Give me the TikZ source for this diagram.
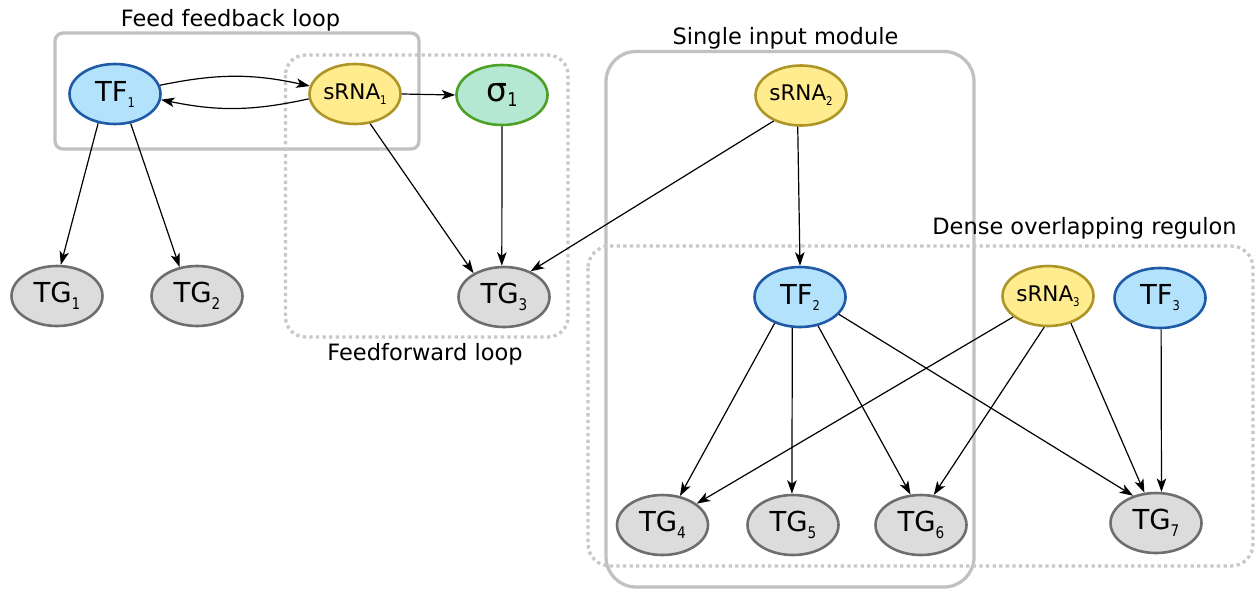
\documentclass[tikz,border=0pt]{standalone}
\usepackage{fontspec}
\setmainfont{DejaVu Sans}
\usetikzlibrary{shapes.geometric,arrows.meta}
\definecolor{tffill}{HTML}{B3E2FC}
\definecolor{tfdraw}{HTML}{1F5AA6}
\definecolor{srnafill}{HTML}{FFEC8F}
\definecolor{srnadraw}{HTML}{AD9527}
\definecolor{sigfill}{HTML}{B4E8D2}
\definecolor{sigdraw}{HTML}{4CA127}
\definecolor{tgfill}{HTML}{DCDCDC}
\definecolor{tgdraw}{HTML}{6E6E6E}
\definecolor{boxgray}{HTML}{BFC3BF}
\definecolor{dotgray}{HTML}{C8C8C8}
\newcommand{\mysub}[3]{\raisebox{-#2pt}{\fontsize{#1}{#1}\selectfont\scalebox{0.85}[1]{#3}}}
\tikzset{
  gnode/.style={ellipse, line width=2.6pt, minimum width=91pt, minimum height=60pt, inner sep=0pt},
  tfnode/.style={gnode, fill=tffill, draw=tfdraw, font=\fontsize{27.5}{27.5}\selectfont},
  srnanode/.style={gnode, fill=srnafill, draw=srnadraw, font=\fontsize{21.5}{21.5}\selectfont},
  signode/.style={gnode, fill=sigfill, draw=sigdraw, font=\fontsize{33}{33}\selectfont},
  tgnode/.style={gnode, fill=tgfill, draw=tgdraw, font=\fontsize{27.5}{27.5}\selectfont},
  solidbox/.style={draw=boxgray, line width=3.3pt},
  dotbox/.style={draw=dotgray, line width=3.3pt, dash pattern=on 3.3pt off 3.3pt},
  boxlabel/.style={font=\fontsize{22.5}{22.5}\selectfont, anchor=base, inner sep=0pt},
  edge/.style={draw=black, line width=1.2pt, -{Stealth[length=13.5pt,width=9.5pt,inset=3.5pt]}},
}
\begin{document}
\begin{tikzpicture}[x=1pt,y=1pt]
\useasboundingbox (0,0) rectangle (1257,-590);
% boxes
\draw[solidbox, rounded corners=8pt] (55,-33) rectangle (419,-149);
\draw[dotbox, rounded corners=20pt] (285.5,-55) rectangle (568,-337);
\draw[solidbox, rounded corners=30pt] (606,-51.5) rectangle (974,-587);
\draw[dotbox, rounded corners=22pt] (588,-246) rectangle (1253,-566);
% labels
\node[boxlabel] (lffb) at (230.5,-26.7) {Feed feedback loop};
\node[boxlabel] (lff) at (425,-360) {Feedforward loop};
\node[boxlabel] (lsim) at (785.5,-44.3) {Single input module};
\node[boxlabel] (ldor) at (1084.5,-234.3) {Dense overlapping regulon};
% nodes
\node[tfnode] (TF1) at (115,-94) {TF\mysub{13.5}{6}{1}};
\node[srnanode] (S1) at (355,-94) {sRNA\mysub{12}{5}{1}};
\node[signode] (SIG) at (502,-95) {σ\mysub{19}{5}{1}};
\node[tgnode] (TG1) at (57,-296) {TG\mysub{16}{7}{1}};
\node[tgnode] (TG2) at (197,-296) {TG\mysub{16}{7}{2}};
\node[tgnode] (TG3) at (504,-297) {TG\mysub{16}{7}{3}};
\node[srnanode] (S2) at (801,-95.5) {sRNA\mysub{12}{5}{2}};
\node[tfnode] (TF2) at (800,-297) {TF\mysub{13.5}{6}{2}};
\node[srnanode] (S3) at (1048,-296) {sRNA\mysub{12}{5}{3}};
\node[tfnode] (TF3) at (1160,-298) {TF\mysub{13.5}{6}{3}};
\node[tgnode] (TG4) at (662.5,-525) {TG\mysub{16}{7}{4}};
\node[tgnode] (TG5) at (793,-525) {TG\mysub{16}{7}{5}};
\node[tgnode] (TG6) at (921,-525) {TG\mysub{16}{7}{6}};
\node[tgnode] (TG7) at (1156,-523) {TG\mysub{16}{7}{7}};
% edges
\draw[edge] (TF1.11) to[bend left=12] (S1.170);
\draw[edge] (S1.186) to[bend left=12] (TF1.353);
\draw[edge] (S1.0) -- (SIG.180);
\draw[edge] (TF1.240) -- (TG1.83);
\draw[edge] (TF1.298) -- (TG2.121);
\draw[edge] (S1.297) -- (TG3.142);
\draw[edge] (SIG.270) -- (TG3.94);
\draw[edge] (S2.223) -- (TG3.44);
\draw[edge] (S2.264) -- (TF2.90);
\draw[edge] (TF2.226) -- (TG4.59);
\draw[edge] (TF2.256) -- (TG5.92);
\draw[edge] (TF2.302) -- (TG6.109);
\draw[edge] (TF2.336) -- (TG7.130);
\draw[edge] (S3.211) -- (TG4.32);
\draw[edge] (S3.263) -- (TG6.67);
\draw[edge] (S3.310) -- (TG7.111);
\draw[edge] (TF3.272) -- (TG7.80);
\end{tikzpicture}
\end{document}
